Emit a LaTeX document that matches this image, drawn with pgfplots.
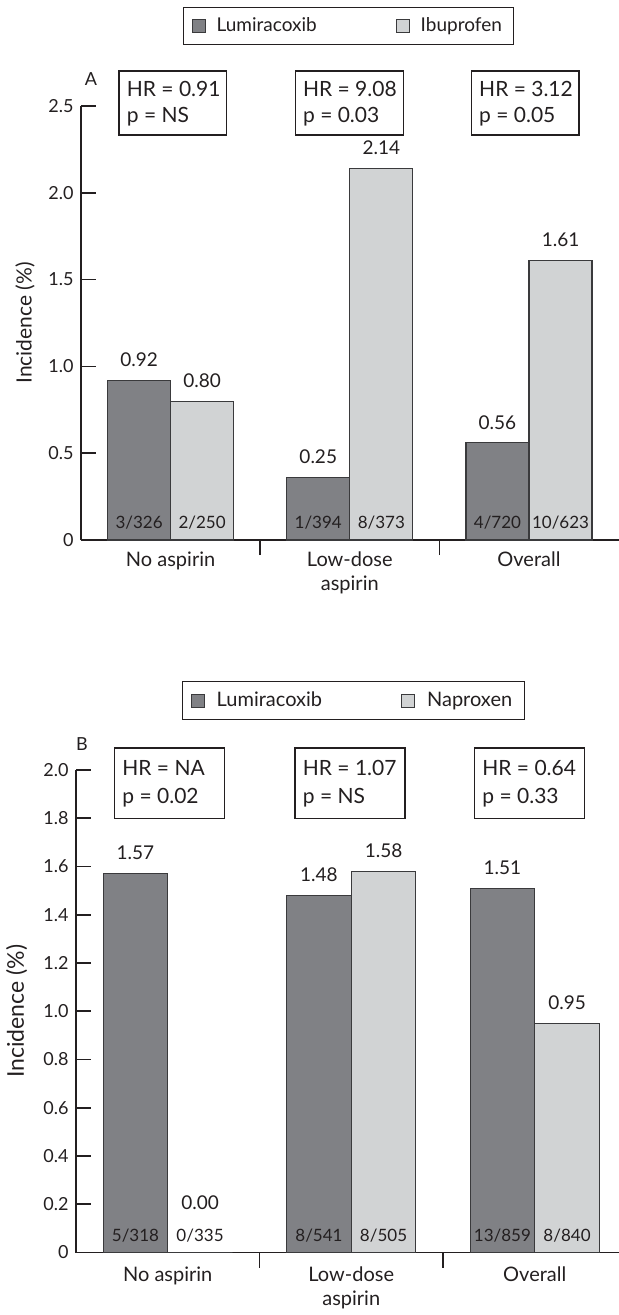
\documentclass[border=0pt]{standalone}
\usepackage{pgfplots}
\pgfplotsset{compat=1.18}
\usepackage{pgfplotstable}
\usepackage{fontspec}
\setmainfont{Lato}

\definecolor{txt}{HTML}{231F20}
\definecolor{darkbar}{HTML}{808185}
\definecolor{lightbar}{HTML}{D1D3D4}
\definecolor{edge}{HTML}{3A3A3C}

% panel A
\pgfplotstableread{
x y lab z frac dy
0 0.92 0.92 0 3/326 0
1 0.36 0.25 0 1/394 0
2 0.56 0.56 0 4/720 0
}\Alum
\pgfplotstableread{
x y lab z frac dy
0 0.80 0.80 0 2/250 0
1 2.14 2.14 0 8/373 0
2 1.61 1.61 0 10/623 0
}\Aibu
% panel B
\pgfplotstableread{
x y lab z frac dy
0 1.57 1.57 0 5/318 0
1 1.48 1.48 0 8/541 0
2 1.51 1.51 0 13/859 0
}\Blum
\pgfplotstableread{
x y lab z frac dy
0 0.00 0.00 0 0/335 14.5
1 1.58 1.58 0 8/505 0
2 0.95 0.95 0 8/840 0
}\Bnap

\tikzset{catlab/.style={anchor=north, font=\fontsize{10}{12}\selectfont, align=center, text=txt, inner sep=0pt}}

\pgfplotsset{
  panel/.style={
    scale only axis, xmin=-0.5, xmax=2.5, ymin=0,
    axis x line=bottom, axis y line=left,
    axis line style={-, line width=0.8pt, draw=txt},
    tick style={line width=0.8pt, draw=txt},
    tick align=inside, major tick length=7.5pt,
    xtick={0.5,1.5}, xticklabels={},
    yticklabel style={font=\fontsize{9}{10}\selectfont, text=txt, inner sep=0pt, xshift=-3.5pt},
    ybar, bar width=0.352, clip=false,
    legend columns=2,
    legend image code/.code={\draw[#1, line width=0.5pt] (0pt,-3.25pt) rectangle (6.5pt,3.25pt);},
  },
  valnodes/.style={nodes near coords, point meta=explicit symbolic,
    visualization depends on={\thisrow{dy} \as \dy},
    every node near coord/.append style={font=\fontsize{9.5}{11}\selectfont, text=txt, anchor=south, inner sep=0pt, yshift={6.5pt+\dy*1pt}}},
  fracnodes/.style={draw=none, fill=none, forget plot, nodes near coords, point meta=explicit symbolic,
    every node near coord/.append style={font=\fontsize{8.5}{10}\selectfont, text=txt, anchor=base, inner sep=0pt, yshift=5.75pt}},
}

\begin{document}
\begin{tikzpicture}
\path[use as bounding box] (0,0) rectangle (309pt,-657.5pt);

% ---------------- Panel A ----------------
\begin{axis}[panel,
  at={(40.5pt,-270pt)}, anchor=south west,
  width=268.8pt, height=217pt, ymax=2.5,
  ytick={0,0.5,1.0,1.5,2.0,2.5}, yticklabels={0,0.5,1.0,1.5,2.0,2.5},
  ylabel={Incidence (\%)},
  every axis y label/.style={at={(axis description cs:-0.104,0.5)}, rotate=90, anchor=center, font=\fontsize{10.5}{12}\selectfont, text=txt},
  legend style={at={(0.498,1.185)}, anchor=center, draw=txt, line width=0.6pt,
    font=\fontsize{9.5}{11}\selectfont, text=txt, inner xsep=4pt, inner ysep=3pt,
    /tikz/every odd column/.append style={column sep=3.5pt},
    /tikz/every even column/.append style={column sep=37.5pt}},
]
\addplot[fill=darkbar, draw=edge, line width=0.6pt, bar shift=-0.176, valnodes] table[x=x, y=y, meta=lab] {\Alum};
\addplot[fill=lightbar, draw=edge, line width=0.6pt, bar shift=0.176, valnodes] table[x=x, y=y, meta=lab] {\Aibu};
\addplot[bar shift=-0.176, fracnodes] table[x=x, y=z, meta=frac] {\Alum};
\addplot[bar shift=0.176, fracnodes] table[x=x, y=z, meta=frac] {\Aibu};
\legend{Lumiracoxib, Ibuprofen}
\node[catlab, yshift=-5.8pt] at (axis cs:0,0) {No aspirin};
\node[catlab, yshift=-5.8pt] at (axis cs:1,0) {Low-dose\\aspirin};
\node[catlab, yshift=-5.8pt] at (axis cs:2,0) {Overall};
\end{axis}

% ---------------- Panel B ----------------
\begin{axis}[panel,
  at={(38pt,-626.25pt)}, anchor=south west,
  width=275.25pt, height=241.25pt, ymax=2.0,
  ytick={0,0.2,0.4,0.6,0.8,1.0,1.2,1.4,1.6,1.8,2.0},
  yticklabels={0,0.2,0.4,0.6,0.8,1.0,1.2,1.4,1.6,1.8,2.0},
  ylabel={Incidence (\%)},
  every axis y label/.style={at={(axis description cs:-0.108,0.5)}, rotate=90, anchor=center, font=\fontsize{11.5}{13}\selectfont, text=txt},
  legend style={at={(0.504,1.1436)}, anchor=center, draw=txt, line width=0.6pt,
    font=\fontsize{10}{12}\selectfont, text=txt, inner xsep=4pt, inner ysep=3pt,
    /tikz/every odd column/.append style={column sep=4pt},
    /tikz/every even column/.append style={column sep=37.5pt}},
]
\addplot[fill=darkbar, draw=edge, line width=0.6pt, bar shift=-0.176, valnodes] table[x=x, y=y, meta=lab] {\Blum};
\addplot[fill=lightbar, draw=edge, line width=0.6pt, bar shift=0.176, valnodes] table[x=x, y=y, meta=lab] {\Bnap};
\addplot[bar shift=-0.176, fracnodes] table[x=x, y=z, meta=frac] {\Blum};
\addplot[bar shift=0.176, fracnodes] table[x=x, y=z, meta=frac] {\Bnap};
\legend{Lumiracoxib, Naproxen}
\node[catlab, yshift=-7pt] at (axis cs:0,0) {No aspirin};
\node[catlab, yshift=-7pt] at (axis cs:1,0) {Low-dose\\aspirin};
\node[catlab, yshift=-7pt] at (axis cs:2,0) {Overall};
\end{axis}

% ---------------- annotation boxes (pixel units) ----------------
\begin{scope}[x=0.5pt, y=-0.5pt, every node/.style={text=txt, inner sep=0pt}]
  \node[anchor=base, font=\fontsize{9}{10}\selectfont] at (91,86) {A};
  \node[anchor=base, font=\fontsize{9}{10}\selectfont] at (82,750) {B};
  \begin{scope}[draw=txt, line width=0.7pt]
    % panel A boxes
    \draw (119,71) rectangle (226.3,135);
    \draw (295.2,71) rectangle (403.3,135);
    \draw (471.3,71) rectangle (579,135);
    % panel B boxes
    \draw (114.3,748) rectangle (224.5,818.3);
    \draw (294.8,748) rectangle (404.8,818.3);
    \draw (474.3,748) rectangle (584.3,818.3);
  \end{scope}
  \begin{scope}[every node/.append style={anchor=base west, font=\fontsize{10.5}{12}\selectfont}]
    \node at (126.5,96.7) {HR = 0.91};   \node at (126.5,122.7) {p = NS};
    \node at (302.7,96.7) {HR = 9.08};   \node at (302.7,122.7) {p = 0.03};
    \node at (478.8,96.7) {HR = 3.12};   \node at (478.8,122.7) {p = 0.05};
    \node at (122,775) {HR = NA};        \node at (122,803.3) {p = 0.02};
    \node at (302.5,775) {HR = 1.07};    \node at (302.5,803.3) {p = NS};
    \node at (482,775) {HR = 0.64};      \node at (482,803.3) {p = 0.33};
  \end{scope}
\end{scope}
\end{tikzpicture}
\end{document}
